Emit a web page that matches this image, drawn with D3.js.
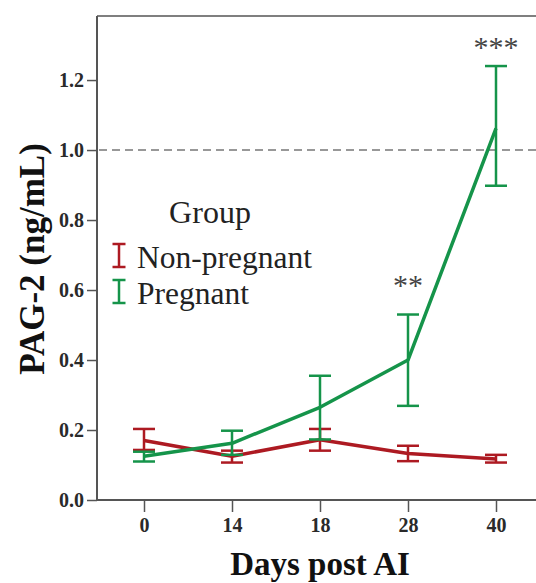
<!DOCTYPE html>
<html><head><meta charset="utf-8">
<script src="https://cdn.jsdelivr.net/npm/d3@7"></script>
<style>body{margin:0;background:#fff}svg{display:block}</style>
</head><body>
<script>
const days = ["0","14","18","28","40"];
const nonPregMean = [0.170, 0.125, 0.172, 0.133, 0.117];
const nonPregLow  = [0.143, 0.107, 0.141, 0.111, 0.107];
const nonPregHigh = [0.203, 0.141, 0.203, 0.155, 0.129];
const pregMean = [0.125, 0.162, 0.265, 0.400, 1.062];
const pregLow  = [0.110, 0.129, 0.173, 0.269, 0.898];
const pregHigh = [0.138, 0.198, 0.355, 0.530, 1.240];
const yTicks = [0.0, 0.2, 0.4, 0.6, 0.8, 1.0, 1.2];
const refLine = 1.0;
const stars = [{day:"28", label:"**"}, {day:"40", label:"***"}];
const groups = ["Non-pregnant", "Pregnant"];

(function(){
const W = 536, H = 583;
const colors = {"Non-pregnant":"#ad1a22", "Pregnant":"#15944a"};
const svg = d3.select("body").append("svg").attr("width", W).attr("height", H);
const mLeft = 97, mTop = 16, mBottom = 500, mRight = 543;
const x = d3.scalePoint().domain(days).range([144, 496]);
const y = d3.scaleLinear().domain([0, 1.383]).range([mBottom, mTop]);
const serif = "'Liberation Serif','Times New Roman',serif";
const axisCol = "#555";

svg.append("line").attr("x1", mLeft).attr("x2", mRight).attr("y1", mTop).attr("y2", mTop)
  .attr("stroke", axisCol).attr("stroke-width", 1.5);

const yAx = svg.append("g").attr("transform", `translate(${mLeft},0)`)
  .call(d3.axisLeft(y).tickValues(yTicks).tickFormat(d3.format(".1f")).tickSize(10).tickPadding(3));
yAx.select(".domain").attr("d", `M0,${mTop}V${mBottom}`).attr("stroke", axisCol).attr("stroke-width", 2);
yAx.selectAll(".tick line").attr("stroke", axisCol).attr("stroke-width", 1.5);
yAx.selectAll("text").attr("font-family", serif).attr("font-size", 20).attr("font-weight", "bold").attr("fill", "#2a2a2a");

const xAx = svg.append("g").attr("transform", `translate(0,${mBottom})`)
  .call(d3.axisBottom(x).tickSize(12).tickPadding(6));
xAx.select(".domain").attr("d", `M${mLeft},0H${mRight}`).attr("stroke", axisCol).attr("stroke-width", 2);
xAx.selectAll(".tick line").attr("stroke", axisCol).attr("stroke-width", 1.5);
xAx.selectAll("text").attr("font-family", serif).attr("font-size", 20).attr("font-weight", "bold").attr("fill", "#2a2a2a");

svg.append("line").attr("x1", mLeft + 2).attr("x2", mRight).attr("y1", y(refLine)).attr("y2", y(refLine))
  .attr("stroke", "#777").attr("stroke-width", 1.5).attr("stroke-dasharray", "8,5");

const series = [
  {name:"Non-pregnant", mean:nonPregMean, low:nonPregLow, high:nonPregHigh},
  {name:"Pregnant", mean:pregMean, low:pregLow, high:pregHigh}
];
const line = d3.line().x((d,i) => x(days[i])).y(d => y(d));
const capW = 11;
series.forEach(s => {
  const g = svg.append("g");
  const c = colors[s.name];
  days.forEach((d,i) => {
    const cx = x(d);
    g.append("line").attr("x1", cx).attr("x2", cx).attr("y1", y(s.low[i])).attr("y2", y(s.high[i]))
      .attr("stroke", c).attr("stroke-width", 2.5);
    [s.low[i], s.high[i]].forEach(v => g.append("line").attr("x1", cx - capW).attr("x2", cx + capW)
      .attr("y1", y(v)).attr("y2", y(v)).attr("stroke", c).attr("stroke-width", 2.5));
  });
  g.append("path").datum(s.mean).attr("d", line).attr("fill", "none")
    .attr("stroke", c).attr("stroke-width", 3.5).attr("stroke-linejoin", "round");
});

const starOffset = {"**": 20, "***": 9};
stars.forEach(s => {
  const i = days.indexOf(s.day);
  svg.append("text").attr("x", x(s.day)).attr("y", y(pregHigh[i]) - starOffset[s.label])
    .attr("text-anchor", "middle").attr("font-family", serif).attr("font-size", 30).attr("fill", "#444")
    .text(s.label);
});

svg.append("text").attr("x", 210).attr("y", 223).attr("text-anchor", "middle")
  .attr("font-family", serif).attr("font-size", 32).attr("fill", "#222").text("Group");
groups.forEach((gname, i) => {
  const by = 268 + i * 36;
  const c = colors[gname];
  const lx = 119;
  svg.append("line").attr("x1", lx).attr("x2", lx).attr("y1", by - 24).attr("y2", by - 1).attr("stroke", c).attr("stroke-width", 2.5);
  [by - 24, by - 1].forEach(yy => svg.append("line").attr("x1", lx - 6.5).attr("x2", lx + 6.5)
    .attr("y1", yy).attr("y2", yy).attr("stroke", c).attr("stroke-width", 2.5));
  svg.append("text").attr("x", 137).attr("y", by).attr("font-family", serif).attr("font-size", 31.5)
    .attr("fill", "#222").text(gname);
});

svg.append("text").attr("x", 320).attr("y", 575).attr("text-anchor", "middle")
  .attr("font-family", serif).attr("font-size", 33).attr("font-weight", "bold").attr("fill", "#111")
  .text("Days post AI");
svg.append("text").attr("transform", "translate(44,259) rotate(-90)").attr("text-anchor", "middle")
  .attr("font-family", serif).attr("font-size", 35).attr("font-weight", "bold").attr("fill", "#111")
  .text("PAG-2 (ng/mL)");
})();
</script>
</body></html>
